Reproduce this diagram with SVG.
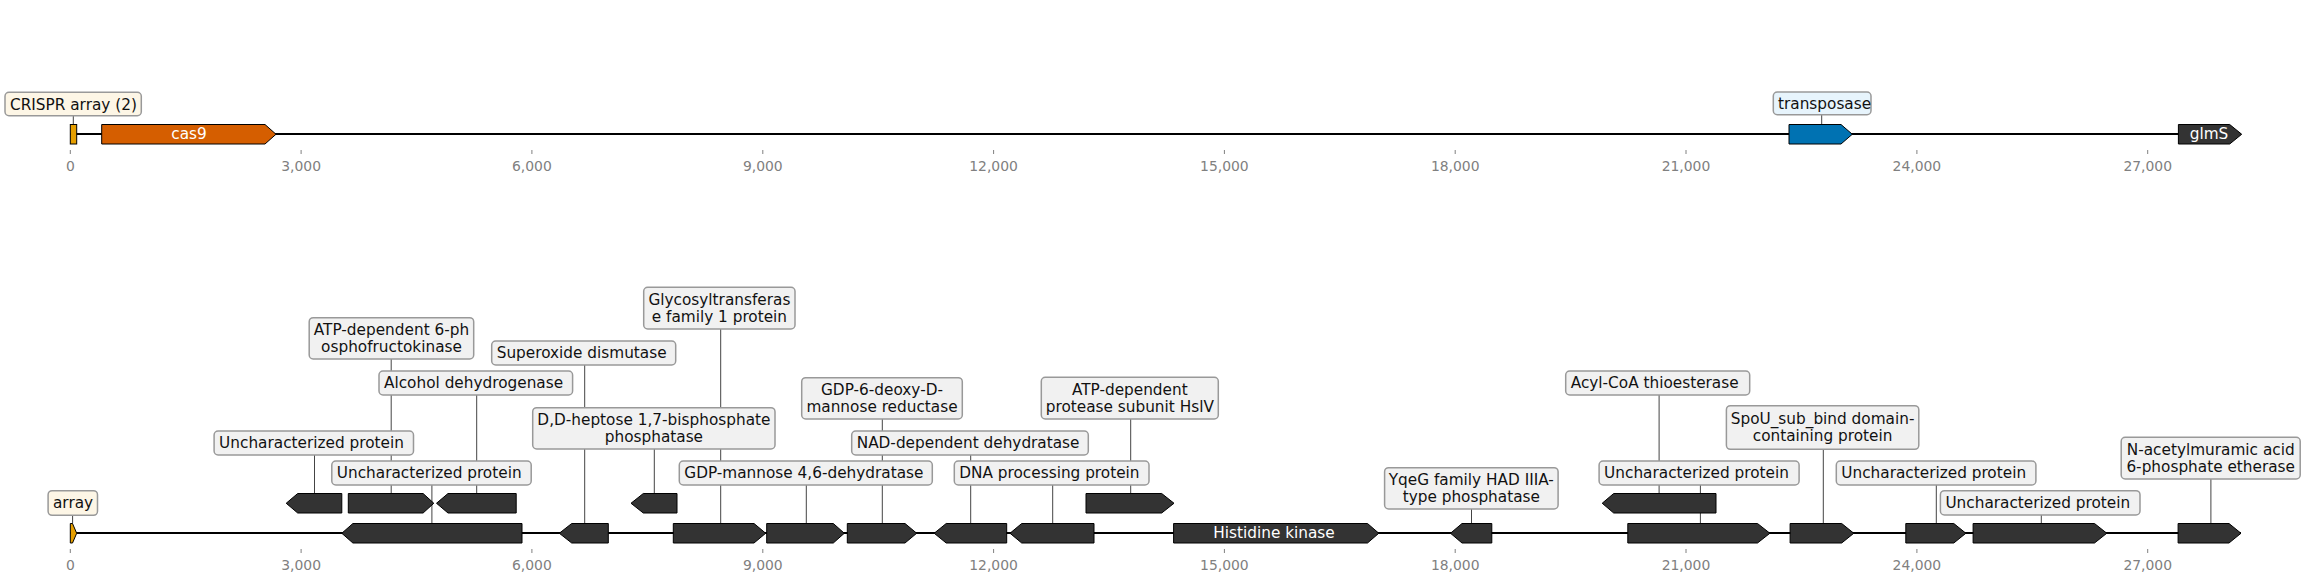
<svg xmlns="http://www.w3.org/2000/svg" width="2303" height="582" viewBox="0 0 2303 582">
<style>
text{font-family:"DejaVu Sans","Liberation Sans",sans-serif;}
.axis{stroke:#000;stroke-width:2;fill:none}
.tick{stroke:#808080;stroke-width:1}
.tl{font-size:13.9px;fill:#808080;text-anchor:middle}
.f{fill:#333333;stroke:#000;stroke-width:1}
.ft{font-size:15.3px;fill:#fff;text-anchor:middle}
.lb{fill:#f1f1f1;stroke:#999;stroke-width:1.5}
.lbc{fill:#fdf6e6;stroke:#999;stroke-width:1.5}
.lbb{fill:#e7f4fc;stroke:#999;stroke-width:1.5}
.lt{font-size:15.3px;fill:#111}
.lm{font-size:15.3px;fill:#111;text-anchor:middle}
.c{stroke:#444;stroke-width:1}
</style>
<rect width="2303" height="582" fill="#fff"/>
<g id="axes">
<line class="axis" x1="70.3" y1="134" x2="2241" y2="134"/>
<line class="axis" x1="70.3" y1="533" x2="2241" y2="533"/>
<g id="ticks-top">
<line class="tick" x1="70.3" y1="150" x2="70.3" y2="154"/><text class="tl" x="70.3" y="170.7">0</text>
<line class="tick" x1="301.1" y1="150" x2="301.1" y2="154"/><text class="tl" x="301.1" y="170.7">3,000</text>
<line class="tick" x1="531.9" y1="150" x2="531.9" y2="154"/><text class="tl" x="531.9" y="170.7">6,000</text>
<line class="tick" x1="762.8" y1="150" x2="762.8" y2="154"/><text class="tl" x="762.8" y="170.7">9,000</text>
<line class="tick" x1="993.6" y1="150" x2="993.6" y2="154"/><text class="tl" x="993.6" y="170.7">12,000</text>
<line class="tick" x1="1224.4" y1="150" x2="1224.4" y2="154"/><text class="tl" x="1224.4" y="170.7">15,000</text>
<line class="tick" x1="1455.2" y1="150" x2="1455.2" y2="154"/><text class="tl" x="1455.2" y="170.7">18,000</text>
<line class="tick" x1="1686" y1="150" x2="1686" y2="154"/><text class="tl" x="1686" y="170.7">21,000</text>
<line class="tick" x1="1916.9" y1="150" x2="1916.9" y2="154"/><text class="tl" x="1916.9" y="170.7">24,000</text>
<line class="tick" x1="2147.7" y1="150" x2="2147.7" y2="154"/><text class="tl" x="2147.7" y="170.7">27,000</text>
</g>
<g id="ticks-bottom">
<line class="tick" x1="70.3" y1="549" x2="70.3" y2="553"/><text class="tl" x="70.3" y="570.2">0</text>
<line class="tick" x1="301.1" y1="549" x2="301.1" y2="553"/><text class="tl" x="301.1" y="570.2">3,000</text>
<line class="tick" x1="531.9" y1="549" x2="531.9" y2="553"/><text class="tl" x="531.9" y="570.2">6,000</text>
<line class="tick" x1="762.8" y1="549" x2="762.8" y2="553"/><text class="tl" x="762.8" y="570.2">9,000</text>
<line class="tick" x1="993.6" y1="549" x2="993.6" y2="553"/><text class="tl" x="993.6" y="570.2">12,000</text>
<line class="tick" x1="1224.4" y1="549" x2="1224.4" y2="553"/><text class="tl" x="1224.4" y="570.2">15,000</text>
<line class="tick" x1="1455.2" y1="549" x2="1455.2" y2="553"/><text class="tl" x="1455.2" y="570.2">18,000</text>
<line class="tick" x1="1686" y1="549" x2="1686" y2="553"/><text class="tl" x="1686" y="570.2">21,000</text>
<line class="tick" x1="1916.9" y1="549" x2="1916.9" y2="553"/><text class="tl" x="1916.9" y="570.2">24,000</text>
<line class="tick" x1="2147.7" y1="549" x2="2147.7" y2="553"/><text class="tl" x="2147.7" y="570.2">27,000</text>
</g>
</g>
<g id="connectors">
<line class="c" x1="73.3" y1="115.7" x2="73.3" y2="124.5"/>
<line class="c" x1="1821.7" y1="114.7" x2="1821.7" y2="124.5"/>
<line class="c" x1="72.6" y1="515.3" x2="72.6" y2="523.5"/>
<line class="c" x1="391.2" y1="359" x2="391.2" y2="493.5"/>
<line class="c" x1="584.7" y1="365" x2="584.7" y2="523.5"/>
<line class="c" x1="476.7" y1="395" x2="476.7" y2="493.5"/>
<line class="c" x1="654.3" y1="449" x2="654.3" y2="493.5"/>
<line class="c" x1="314.5" y1="455" x2="314.5" y2="493.5"/>
<line class="c" x1="431.9" y1="485" x2="431.9" y2="523.5"/>
<line class="c" x1="720.7" y1="329" x2="720.7" y2="523.5"/>
<line class="c" x1="882.3" y1="419" x2="882.3" y2="523.5"/>
<line class="c" x1="970.7" y1="455" x2="970.7" y2="523.5"/>
<line class="c" x1="806.3" y1="485" x2="806.3" y2="523.5"/>
<line class="c" x1="1052.7" y1="485" x2="1052.7" y2="523.5"/>
<line class="c" x1="1130.7" y1="419" x2="1130.7" y2="493.5"/>
<line class="c" x1="1471.5" y1="509" x2="1471.5" y2="523.5"/>
<line class="c" x1="1659.1" y1="395" x2="1659.1" y2="493.5"/>
<line class="c" x1="1700.4" y1="485" x2="1700.4" y2="523.5"/>
<line class="c" x1="1823.3" y1="449.3" x2="1823.3" y2="523.5"/>
<line class="c" x1="1936.3" y1="485" x2="1936.3" y2="523.5"/>
<line class="c" x1="2041.3" y1="515" x2="2041.3" y2="523.5"/>
<line class="c" x1="2210.9" y1="479" x2="2210.9" y2="523.5"/>
</g>
<g id="features-top">
<g id="crispr-array-top"><rect x="70.3" y="124.5" width="6.4" height="19.5" fill="#e69f00" stroke="#000" stroke-width="1"/></g>
<g id="cas9"><polygon points="101.7,124.5 265,124.5 276,134.25 265,144 101.7,144" fill="#d55e00" stroke="#000" stroke-width="1"/><text class="ft" x="189" y="139.4">cas9</text></g>
<g id="transposase"><polygon points="1789,124.5 1841,124.5 1852.3,134.25 1841,144 1789,144" fill="#0072b2" stroke="#000" stroke-width="1"/></g>
<g id="glmS"><polygon class="f" points="2178.4,124.5 2229.7,124.5 2241.7,134.25 2229.7,144 2178.4,144"/><text class="ft" x="2209" y="139.4">glmS</text></g>
</g>
<g id="features-bottom">
<g id="array"><polygon points="70.3,523.5 72.5,523.5 76.7,533.25 72.5,543 70.3,543" fill="#e69f00" stroke="#000" stroke-width="1"/></g>
<g id="g2"><polygon class="f" points="522,523.5 352.9,523.5 341.8,533.25 352.9,543 522,543"/></g>
<g id="g3"><polygon class="f" points="608.3,523.5 571.7,523.5 559.3,533.25 571.7,543 608.3,543"/></g>
<g id="g4"><polygon class="f" points="673.3,523.5 754,523.5 765.7,533.25 754,543 673.3,543"/></g>
<g id="g5"><polygon class="f" points="766.7,523.5 833.3,523.5 844.3,533.25 833.3,543 766.7,543"/></g>
<g id="g6"><polygon class="f" points="847.3,523.5 905,523.5 916.7,533.25 905,543 847.3,543"/></g>
<g id="g7"><polygon class="f" points="1006.7,523.5 946.2,523.5 934.2,533.25 946.2,543 1006.7,543"/></g>
<g id="g8"><polygon class="f" points="1094,523.5 1021.7,523.5 1010,533.25 1021.7,543 1094,543"/></g>
<g id="histidine-kinase"><polygon class="f" points="1173.6,523.5 1367.5,523.5 1378.8,533.25 1367.5,543 1173.6,543"/><text class="ft" x="1274" y="538.4">Histidine kinase</text></g>
<g id="g10"><polygon class="f" points="1491.8,523.5 1462,523.5 1450.5,533.25 1462,543 1491.8,543"/></g>
<g id="g11"><polygon class="f" points="1627.8,523.5 1757.5,523.5 1769.9,533.25 1757.5,543 1627.8,543"/></g>
<g id="g12"><polygon class="f" points="1790.1,523.5 1841.7,523.5 1853.8,533.25 1841.7,543 1790.1,543"/></g>
<g id="g13"><polygon class="f" points="1905.8,523.5 1953.8,523.5 1965.9,533.25 1953.8,543 1905.8,543"/></g>
<g id="g14"><polygon class="f" points="1973.1,523.5 2094.5,523.5 2106.8,533.25 2094.5,543 1973.1,543"/></g>
<g id="g15"><polygon class="f" points="2178.1,523.5 2229,523.5 2241,533.25 2229,543 2178.1,543"/></g>
<g id="u1"><polygon class="f" points="341.8,493.5 297.7,493.5 286.2,503.25 297.7,513 341.8,513"/></g>
<g id="u2"><polygon class="f" points="348.3,493.5 423.1,493.5 433.8,503.25 423.1,513 348.3,513"/></g>
<g id="u3"><polygon class="f" points="516.2,493.5 448,493.5 436.5,503.25 448,513 516.2,513"/></g>
<g id="u4"><polygon class="f" points="677,493.5 643.3,493.5 631,503.25 643.3,513 677,513"/></g>
<g id="u5"><polygon class="f" points="1086,493.5 1161.7,493.5 1174,503.25 1161.7,513 1086,513"/></g>
<g id="u6"><polygon class="f" points="1716,493.5 1613.7,493.5 1602.2,503.25 1613.7,513 1716,513"/></g>
</g>
<g id="labels-top">
<g id="lbl-crispr2"><rect class="lbc" x="5" y="92.3" width="136.3" height="23.4" rx="4"/><text class="lt" x="10" y="109.5">CRISPR array (2)</text></g>
<g id="lbl-transposase"><rect class="lbb" x="1773.3" y="92" width="97.7" height="22.7" rx="4"/><text class="lt" x="1778" y="108.8">transposase</text></g>
</g>
<g id="labels-bottom">
<g id="lbl-array"><rect class="lbc" x="48.1" y="490.7" width="49.4" height="24.6" rx="4"/><text class="lt" x="53" y="508.3">array</text></g>
<g id="lbl-atp6pfk"><rect class="lb" x="309.2" y="317.7" width="164.5" height="41.3" rx="4"/><text class="lm" x="391.5" y="335.2">ATP-dependent 6-ph</text><text class="lm" x="391.5" y="351.9">osphofructokinase</text></g>
<g id="lbl-sod"><rect class="lb" x="491.7" y="341" width="184" height="24" rx="4"/><text class="lt" x="496.7" y="358.3">Superoxide dismutase</text></g>
<g id="lbl-adh"><rect class="lb" x="379" y="371" width="193.6" height="24" rx="4"/><text class="lt" x="384" y="388.3">Alcohol dehydrogenase</text></g>
<g id="lbl-ddh"><rect class="lb" x="532.7" y="407.7" width="242.3" height="41.3" rx="4"/><text class="lm" x="653.9" y="425.2">D,D-heptose 1,7-bisphosphate</text><text class="lm" x="653.9" y="441.9">phosphatase</text></g>
<g id="lbl-unc1"><rect class="lb" x="214.1" y="431" width="199.4" height="24" rx="4"/><text class="lt" x="219.1" y="448.3">Uncharacterized protein</text></g>
<g id="lbl-unc2"><rect class="lb" x="331.8" y="461" width="199.4" height="24" rx="4"/><text class="lt" x="336.8" y="478.3">Uncharacterized protein</text></g>
<g id="lbl-gt"><rect class="lb" x="643.7" y="287.3" width="151.3" height="41.7" rx="4"/><text class="lm" x="719.4" y="304.8">Glycosyltransferas</text><text class="lm" x="719.4" y="321.5">e family 1 protein</text></g>
<g id="lbl-gdp6"><rect class="lb" x="801.7" y="377.7" width="160.6" height="41.3" rx="4"/><text class="lm" x="882" y="395.2">GDP-6-deoxy-D-</text><text class="lm" x="882" y="411.9">mannose reductase</text></g>
<g id="lbl-nad"><rect class="lb" x="851.7" y="431" width="236.6" height="24" rx="4"/><text class="lt" x="856.7" y="448.3">NAD-dependent dehydratase</text></g>
<g id="lbl-gdpm"><rect class="lb" x="679.3" y="461" width="253" height="24" rx="4"/><text class="lt" x="684.3" y="478.3">GDP-mannose 4,6-dehydratase</text></g>
<g id="lbl-dna"><rect class="lb" x="954.3" y="461" width="194.7" height="24" rx="4"/><text class="lt" x="959.3" y="478.3">DNA processing protein</text></g>
<g id="lbl-hslv"><rect class="lb" x="1041.3" y="377.3" width="177" height="41.7" rx="4"/><text class="lm" x="1129.8" y="394.8">ATP-dependent</text><text class="lm" x="1129.8" y="411.5">protease subunit HslV</text></g>
<g id="lbl-yqeg"><rect class="lb" x="1384.6" y="467.7" width="173.5" height="41.3" rx="4"/><text class="lm" x="1471.3" y="485.2">YqeG family HAD IIIA-</text><text class="lm" x="1471.3" y="501.9">type phosphatase</text></g>
<g id="lbl-acyl"><rect class="lb" x="1565.7" y="371" width="184" height="24" rx="4"/><text class="lt" x="1570.7" y="388.3">Acyl-CoA thioesterase</text></g>
<g id="lbl-unc3"><rect class="lb" x="1599.1" y="461" width="200" height="24" rx="4"/><text class="lt" x="1604.1" y="478.3">Uncharacterized protein</text></g>
<g id="lbl-spou"><rect class="lb" x="1726.4" y="405.7" width="192.4" height="43.6" rx="4"/><text class="lm" x="1822.6" y="424">SpoU_sub_bind domain-</text><text class="lm" x="1822.6" y="440.7">containing protein</text></g>
<g id="lbl-unc4"><rect class="lb" x="1836.3" y="461" width="199.6" height="24" rx="4"/><text class="lt" x="1841.3" y="478.3">Uncharacterized protein</text></g>
<g id="lbl-unc5"><rect class="lb" x="1940.4" y="490.7" width="199.6" height="24.3" rx="4"/><text class="lt" x="1945.4" y="508">Uncharacterized protein</text></g>
<g id="lbl-nacm"><rect class="lb" x="2121.2" y="437.3" width="179" height="41.7" rx="4"/><text class="lm" x="2210.7" y="454.8">N-acetylmuramic acid</text><text class="lm" x="2210.7" y="471.5">6-phosphate etherase</text></g>
</g>
</svg>
